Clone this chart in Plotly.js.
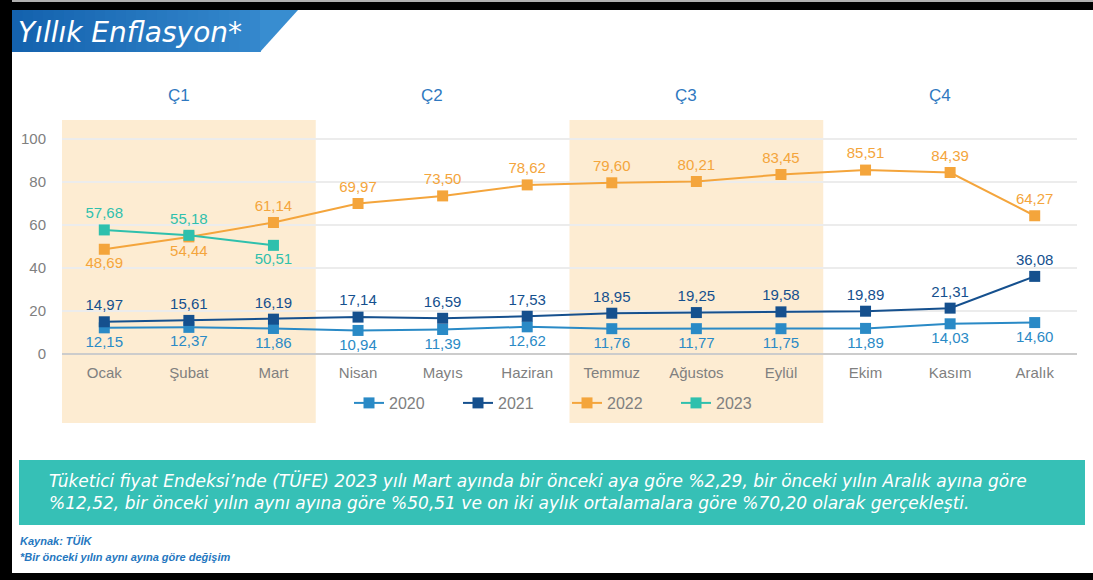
<!DOCTYPE html>
<html>
<head>
<meta charset="utf-8">
<script src="https://cdn.plot.ly/plotly-3.0.1.min.js"></script>
<style>
  html, body { margin: 0; padding: 0; background: #ffffff; }
  #chart { width: 1093px; height: 580px; }
</style>
</head>
<body>
<div id="chart"></div>
<script>
// ---- data ----
const months = ["Ocak", "Şubat", "Mart", "Nisan", "Mayıs", "Haziran", "Temmuz", "Ağustos", "Eylül", "Ekim", "Kasım", "Aralık"];
const y2020 = [12.15, 12.37, 11.86, 10.94, 11.39, 12.62, 11.76, 11.77, 11.75, 11.89, 14.03, 14.60];
const y2021 = [14.97, 15.61, 16.19, 17.14, 16.59, 17.53, 18.95, 19.25, 19.58, 19.89, 21.31, 36.08];
const y2022 = [48.69, 54.44, 61.14, 69.97, 73.50, 78.62, 79.60, 80.21, 83.45, 85.51, 84.39, 64.27];
const y2023 = [57.68, 55.18, 50.51];
const quarters = ["Ç1", "Ç2", "Ç3", "Ç4"];
const yTicks = [0, 20, 40, 60, 80, 100];

const W = 1093, H = 580;
const M = { l: 62, r: 16, t: 120, b: 157 };
const PW = W - M.l - M.r, PH = H - M.t - M.b;
const px = x => (x - M.l) / PW;
const py = y => (H - M.b - y) / PH;

const fmt = v => v.toFixed(2).replace('.', ',');
const idx = arr => arr.map((_, i) => i);
const FONT = 'Liberation Sans, Arial, Helvetica, sans-serif';
const WIDE = 'DejaVu Sans, Verdana, sans-serif';

const C2020 = '#2a8ac6', C2021 = '#15508e', C2022 = '#f4a53c', C2023 = '#2fc0ad';

function series(name, vals, color, pos) {
  return {
    type: 'scatter', mode: 'lines+markers+text', name: name,
    x: idx(vals).map(i => months[i]), y: vals,
    text: vals.map(fmt), textposition: pos,
    textfont: { family: FONT, size: 15, color: color },
    line: { color: color, width: 2 },
    marker: { symbol: 'square', size: 11, color: color },
    cliponaxis: false, hoverinfo: 'skip'
  };
}

const traces = [
  series('2020', y2020, C2020, 'bottom center'),
  series('2021', y2021, C2021, 'top center'),
  series('2022', y2022, C2022, y2022.map((_, i) => i < 2 ? 'bottom center' : 'top center')),
  series('2023', y2023, C2023, y2023.map((_, i) => i < 2 ? 'top center' : 'bottom center'))
];

// title banner with a left-to-right gradient built from thin strips
function mix(a, b, t) {
  const pa = [1, 3, 5].map(k => parseInt(a.substr(k, 2), 16));
  const pb = [1, 3, 5].map(k => parseInt(b.substr(k, 2), 16));
  return 'rgb(' + pa.map((v, k) => Math.round(v + (pb[k] - v) * t)).join(',') + ')';
}
const bannerShapes = [];
const BX0 = 12, BXT = 298, BXB = 260, BY0 = 10, BY1 = 52, NS = 24;
for (let s = 0; s < NS; s++) {
  const a = BX0 + (BXB - BX0) * s / NS, b = BX0 + (BXB - BX0) * (s + 1) / NS + 0.8;
  bannerShapes.push({ type: 'rect', xref: 'paper', yref: 'paper', x0: px(a), x1: px(b), y0: py(BY1), y1: py(BY0),
    fillcolor: mix('#1462ae', '#3a8fd2', (a - BX0) / (BXT - BX0)), line: { width: 0 } });
}
bannerShapes.push({ type: 'path', xref: 'paper', yref: 'paper',
  path: `M ${px(BXB)} ${py(BY0)} L ${px(BXT)} ${py(BY0)} L ${px(BXB)} ${py(BY1)} Z`,
  fillcolor: mix('#1462ae', '#3a8fd2', 0.95), line: { width: 0 } });

const shapes = [
  // quarter shading
  { type: 'rect', layer: 'below', xref: 'x', yref: 'paper', x0: -0.5, x1: 2.5, y0: 0, y1: 1, fillcolor: '#fdecd2', line: { width: 0 } },
  { type: 'rect', layer: 'below', xref: 'x', yref: 'paper', x0: 5.5, x1: 8.5, y0: 0, y1: 1, fillcolor: '#fdecd2', line: { width: 0 } }
].concat(bannerShapes).concat([
  // teal text box
  { type: 'rect', xref: 'paper', yref: 'paper', x0: px(19), x1: px(1085), y0: py(460), y1: py(525), fillcolor: '#36c0b6', line: { width: 0 } },
  // frame
  { type: 'rect', xref: 'paper', yref: 'paper', x0: px(0), x1: px(W), y0: py(0), y1: py(2), fillcolor: '#b0b0b0', line: { width: 0 } },
  { type: 'rect', xref: 'paper', yref: 'paper', x0: px(0), x1: px(W), y0: py(2), y1: py(10), fillcolor: '#000000', line: { width: 0 } },
  { type: 'rect', xref: 'paper', yref: 'paper', x0: px(0), x1: px(12), y0: py(0), y1: py(H), fillcolor: '#000000', line: { width: 0 } },
  { type: 'rect', xref: 'paper', yref: 'paper', x0: px(0), x1: px(W), y0: py(573), y1: py(H), fillcolor: '#000000', line: { width: 0 } }
]);

const annotations = [
  { xref: 'paper', yref: 'paper', x: px(16), y: py(32), xanchor: 'left', yanchor: 'middle', showarrow: false,
    text: '<i>Yıllık Enflasyon*</i>', font: { family: WIDE, size: 28, color: '#ffffff' } },
  { xref: 'paper', yref: 'paper', x: px(47), y: py(491), xanchor: 'left', yanchor: 'middle', align: 'left', showarrow: false,
    text: '<i>Tüketici fiyat Endeksi’nde (TÜFE) 2023 yılı Mart ayında bir önceki aya göre %2,29, bir önceki yılın Aralık ayına göre<br>%12,52, bir önceki yılın aynı ayına göre %50,51 ve on iki aylık ortalamalara göre %70,20 olarak gerçekleşti.</i>',
    font: { family: WIDE, size: 17, color: '#ffffff' } },
  { xref: 'paper', yref: 'paper', x: px(18), y: py(541), xanchor: 'left', yanchor: 'middle', showarrow: false,
    text: '<b><i>Kaynak: TÜİK</i></b>', font: { family: FONT, size: 11, color: '#2577c0' } },
  { xref: 'paper', yref: 'paper', x: px(18), y: py(557), xanchor: 'left', yanchor: 'middle', showarrow: false,
    text: '<b><i>*Bir önceki yılın aynı ayına göre değişim</i></b>', font: { family: FONT, size: 11, color: '#2577c0' } }
].concat(quarters.map((q, i) => ({
  xref: 'x', yref: 'paper', x: i * 3 + 1 - 0.12, y: py(96), xanchor: 'center', yanchor: 'middle', showarrow: false,
  text: q, font: { family: FONT, size: 17, color: '#2f78c0' }
})));

const layout = {
  width: W, height: H,
  margin: { l: M.l, r: M.r, t: M.t, b: M.b, pad: 0 },
  paper_bgcolor: '#ffffff', plot_bgcolor: 'rgba(0,0,0,0)',
  font: { family: FONT, color: '#808080', size: 14 },
  showlegend: true,
  legend: { orientation: 'h', x: px(567), xanchor: 'center', y: py(403), yanchor: 'middle',
            entrywidth: 64, entrywidthmode: 'pixels',
            font: { family: FONT, size: 16, color: '#808080' }, bgcolor: 'rgba(0,0,0,0)',
            traceorder: 'normal', itemclick: false },
  xaxis: {
    type: 'category', categoryorder: 'array', categoryarray: months,
    range: [-0.5, 11.5], anchor: 'free', position: py(354),
    showgrid: false, zeroline: false, showline: true, linecolor: '#cccccc', linewidth: 2,
    ticks: 'outside', ticklen: 5, tickcolor: 'rgba(0,0,0,0)',
    tickfont: { family: FONT, size: 15, color: '#808080' }, fixedrange: true
  },
  yaxis: {
    range: [-32.1, 108.8], tickvals: yTicks, ticktext: yTicks.map(String),
    showgrid: true, gridcolor: '#ececec', gridwidth: 1.5, zeroline: false, showline: false,
    ticks: 'outside', ticklen: 12, tickcolor: 'rgba(0,0,0,0)',
    tickfont: { family: FONT, size: 15, color: '#808080' }, fixedrange: true
  },
  shapes: shapes,
  annotations: annotations
};

Plotly.newPlot('chart', traces, layout, { displayModeBar: false, staticPlot: true });
</script>
</body>
</html>
